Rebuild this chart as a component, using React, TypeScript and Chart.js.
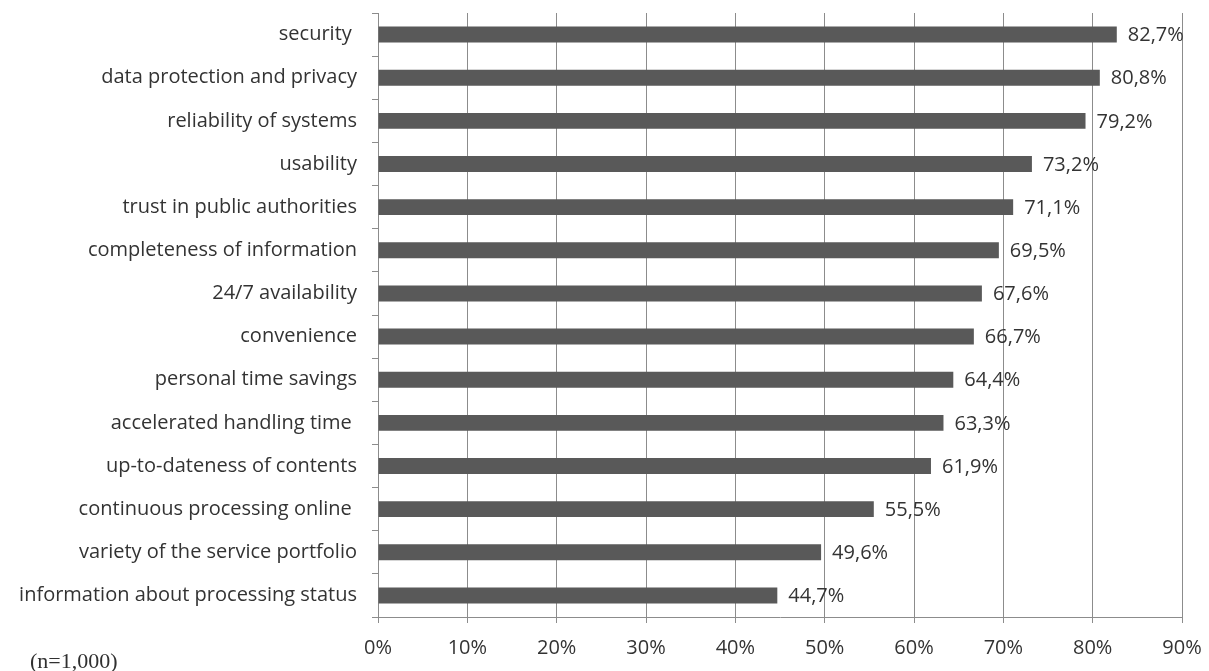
import React, { useEffect, useRef } from "react";
import { Chart, registerables } from "chart.js";

Chart.register(...registerables);

const categories = [
  "security ",
  "data protection and privacy",
  "reliability of systems",
  "usability",
  "trust in public authorities",
  "completeness of information",
  "24/7 availability",
  "convenience",
  "personal time savings",
  "accelerated handling time ",
  "up-to-dateness of contents",
  "continuous processing online ",
  "variety of the service portfolio",
  "information about processing status",
];

const values = [82.7, 80.8, 79.2, 73.2, 71.1, 69.5, 67.6, 66.7, 64.4, 63.3, 61.9, 55.5, 49.6, 44.7];

const xTicks = [0, 10, 20, 30, 40, 50, 60, 70, 80, 90];

const sampleNote = "(n=1,000)";

const FONT = "'Open Sans', 'Noto Sans', sans-serif";
const TEXT = "#333333";
const GRID = "#8c8c8c";
const BAR = "#595959";

const labelPlugin = {
  id: "valueLabels",
  afterDatasetsDraw(chart: any) {
    const ctx = chart.ctx;
    const meta = chart.getDatasetMeta(0);
    ctx.save();
    ctx.font = `20px ${FONT}`;
    ctx.fillStyle = TEXT;
    ctx.textAlign = "left";
    ctx.textBaseline = "middle";
    meta.data.forEach((bar: any, i: number) => {
      const txt = values[i].toFixed(1).replace(".", ",") + "%";
      ctx.fillText(txt, bar.x + 11, bar.y + 1);
    });
    ctx.font = `22px 'Liberation Serif', 'DejaVu Serif', serif`;
    ctx.fillStyle = "#303030";
    ctx.textBaseline = "alphabetic";
    ctx.fillText(sampleNote, 30, 668);
    ctx.restore();
  },
};

export default function App() {
  const ref = useRef<HTMLCanvasElement | null>(null);
  useEffect(() => {
    if (!ref.current) return;
    const chart = new Chart(ref.current, {
      type: "bar",
      data: {
        labels: categories,
        datasets: [
          {
            data: values,
            backgroundColor: BAR,
            borderWidth: 0,
            barPercentage: 0.37,
            categoryPercentage: 1,
          },
        ],
      },
      options: {
        indexAxis: "y",
        animation: false,
        responsive: false,
        maintainAspectRatio: false,
        layout: { padding: { top: 13, right: 27, left: 0, bottom: 0 } },
        plugins: { legend: { display: false }, tooltip: { enabled: false } },
        scales: {
          x: {
            min: 0,
            max: 90,
            afterBuildTicks(scale: any) {
              scale.ticks = xTicks.map((v) => ({ value: v }));
            },
            afterFit(scale: any) {
              scale.height = 54;
              scale.paddingLeft = 0;
              scale.paddingRight = 0;
            },
            ticks: {
              callback: (v: any) => v + "%",
              font: { family: FONT, size: 20 },
              color: TEXT,
              padding: 13,
              maxRotation: 0,
            },
            grid: { color: GRID, lineWidth: 1, tickLength: 6, drawTicks: true },
            border: { color: GRID, width: 1 },
          },
          y: {
            afterFit(scale: any) {
              scale.width = 378;
              scale.paddingTop = 0;
              scale.paddingBottom = 0;
            },
            ticks: {
              font: { family: FONT, size: 20 },
              color: TEXT,
              padding: 15,
              autoSkip: false,
            },
            grid: {
              offset: true,
              drawOnChartArea: false,
              drawTicks: true,
              tickLength: 6,
              color: GRID,
            },
            border: { color: GRID, width: 1 },
          },
        },
      },
      plugins: [labelPlugin],
    });
    return () => chart.destroy();
  }, []);
  return (
    <div style={{ position: "fixed", left: 0, top: 0, width: 1209, height: 671, background: "#fff" }}>
      <canvas ref={ref} width={1209} height={671} style={{ display: "block" }} />
    </div>
  );
}
